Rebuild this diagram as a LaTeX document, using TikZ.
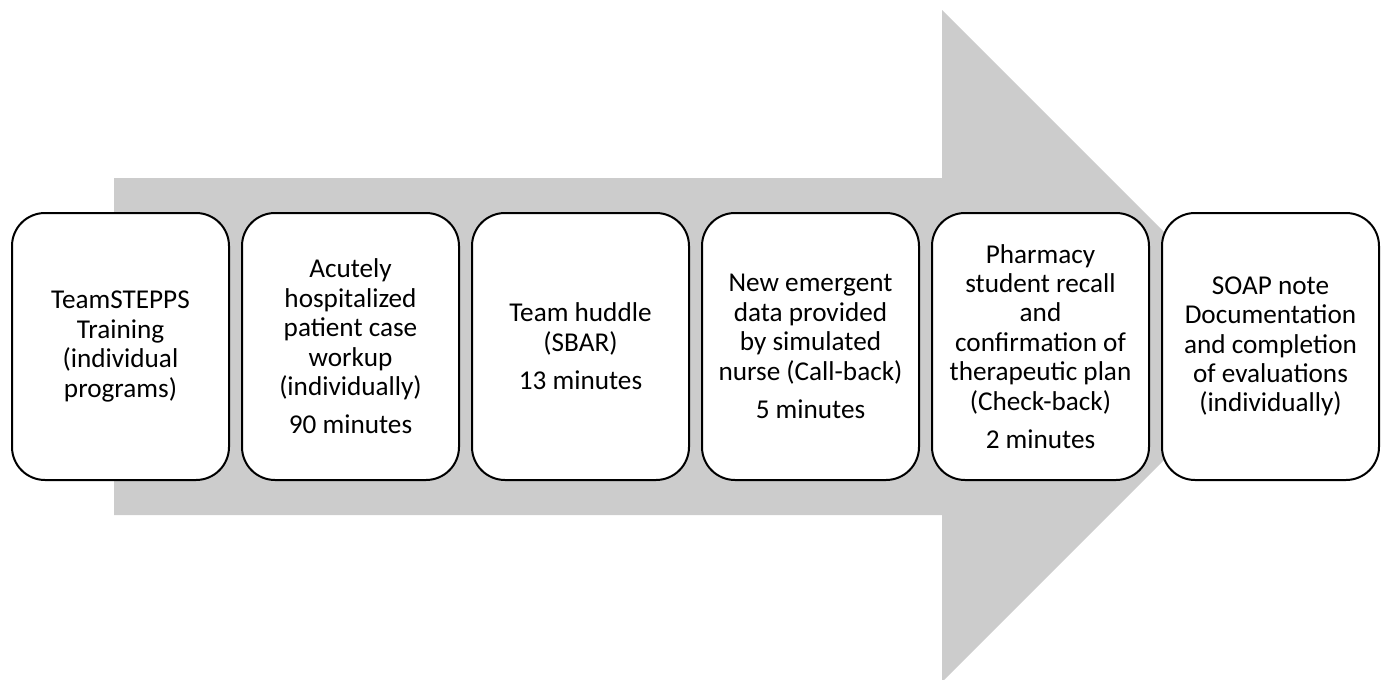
\documentclass[tikz,border=0pt]{standalone}
\usepackage{fontspec}
\setmainfont{Carlito}
\usepackage{tikz}
\usetikzlibrary{positioning}
\definecolor{arrowgray}{RGB}{204,204,204}

\begin{document}
\begin{tikzpicture}[
  x=0.5pt, y=-0.5pt,
  node distance=5.5pt,
  phase/.style={draw, fill=white, line width=1pt, rounded corners=16.5pt, minimum width=108.5pt, minimum height=133.5pt, inner sep=0pt, align=center, font=\fontsize{13.6}{14.7}\selectfont},
  >=stealth
]
\useasboundingbox (0,0) rectangle (1389,680);

% Background arrow
\fill[arrowgray] (114,178) -- (942,178) -- (942,10) -- (1278,346) -- (942,682) -- (942,515) -- (114,515) -- cycle;

% Steps along the arrow
\node[phase] (train) at (120.5,346.5) {TeamSTEPPS\\Training\\(individual\\programs)};
\node[phase, right=of train] (workup) {Acutely\\hospitalized\\patient case\\workup\\(individually)\\[4.5pt]90 minutes};
\node[phase, right=of workup] (huddle) {Team huddle\\(SBAR)\\[4.5pt]13 minutes};
\node[phase, right=of huddle] (callback) {New emergent\\data provided\\by simulated\\nurse (Call-back)\\[4.5pt]5 minutes};
\node[phase, right=of callback] (checkback) {Pharmacy\\student recall\\and\\confirmation of\\therapeutic plan\\(Check-back)\\[4.5pt]2 minutes};
\node[phase, right=of checkback] (soap) {SOAP note\\Documentation\\and completion\\of evaluations\\(individually)};

\end{tikzpicture}
\end{document}
